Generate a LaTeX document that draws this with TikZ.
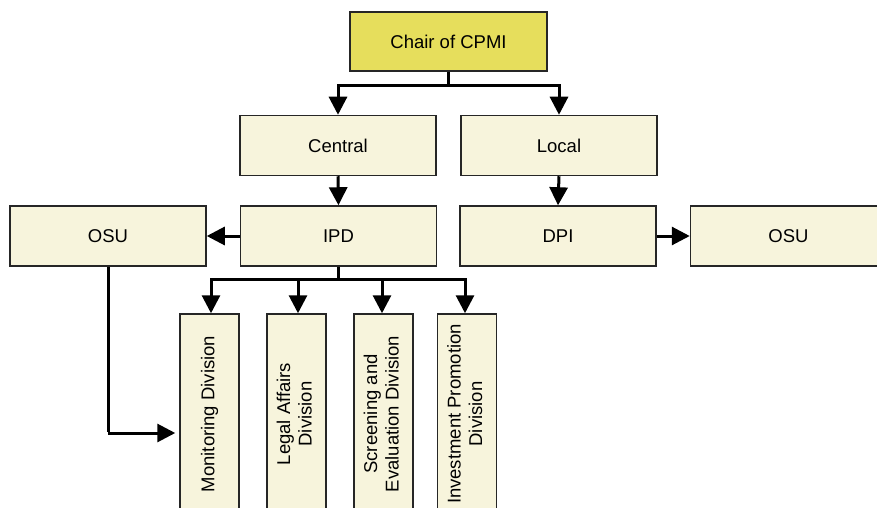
\documentclass[tikz,border=0pt]{standalone}
\usepackage{fontspec}
\setmainfont{Liberation Sans}
\usetikzlibrary{arrows.meta,calc}
\definecolor{chairfill}{HTML}{E6DE5C}
\definecolor{boxfill}{HTML}{F7F4DC}
\begin{document}
\begin{tikzpicture}[x=1pt,y=-1pt,
  orgbox/.style={draw=black!85, line width=1.5pt, fill=boxfill, inner sep=0pt,
    font=\fontsize{18.5pt}{21.5pt}\selectfont},
  hbox/.style={orgbox, minimum width=196pt, minimum height=60pt},
  vbox/.style={orgbox, minimum width=59pt, minimum height=200pt},
  conn/.style={line width=3pt, -{Triangle[length=18pt,width=18pt]}},
  seg/.style={line width=3pt}]
\useasboundingbox (0,0) rectangle (877,508);
\clip (0,0) rectangle (877,508);
\node[hbox, fill=chairfill, minimum width=197pt, minimum height=59pt] (chair) at (448.5,41.5) {Chair of CPMI};
\node[hbox] (central) at (338,145.5) {Central};
\node[hbox] (local) at (559,145.5) {Local};
\node[hbox] (osuL) at (108,236) {OSU};
\node[hbox] (ipd) at (338.5,236) {IPD};
\node[hbox] (dpi) at (558,236) {DPI};
\node[hbox] (osuR) at (788.5,236) {OSU};
\node[vbox] (mon) at (209.5,414) {\rotatebox{90}{Monitoring Division}};
\node[vbox] (leg) at (296.5,414) {\rotatebox{90}{\begin{tabular}{@{}c@{}}Legal Affairs\\Division\end{tabular}}};
\node[vbox] (scr) at (383.5,414) {\rotatebox{90}{\begin{tabular}{@{}c@{}}Screening and\\Evaluation Division\end{tabular}}};
\node[vbox] (inv) at (467,414) {\rotatebox{90}{\begin{tabular}{@{}c@{}}Investment Promotion\\Division\end{tabular}}};
% chair to central/local
\coordinate (j1) at ($(chair.south)+(0,14)$);
\draw[seg] (chair.south) -- (j1);
\draw[conn] (j1) -| (central.north);
\draw[conn] (j1) -| (local.north);
% central to ipd, local to dpi
\draw[conn] (central.south) -- (ipd.north);
\draw[conn] (local.south) -- (dpi.north);
% ipd to osu, dpi to osu
\draw[conn] (ipd.west) -- (osuL.east);
\draw[conn] (dpi.east) -- (osuR.west);
% ipd to divisions
\coordinate (j2) at ($(ipd.south)+(0,13)$);
\draw[seg] (ipd.south) -- (j2);
\draw[conn] (j2) -| ([xshift=1.5pt]mon.north);
\draw[conn] (j2) -| ([xshift=1.5pt]leg.north);
\draw[conn] (j2) -| ([xshift=-1.5pt]scr.north);
\draw[conn] (j2) -| ([xshift=-2pt]inv.north);
% osu to monitoring
\coordinate (j3) at (osuL.south |- 0,433);
\draw[seg] (osuL.south) -- ([yshift=1.5pt]j3);
\draw[conn] (j3) -- ([xshift=-4pt]mon.west |- j3);
\end{tikzpicture}
\end{document}
